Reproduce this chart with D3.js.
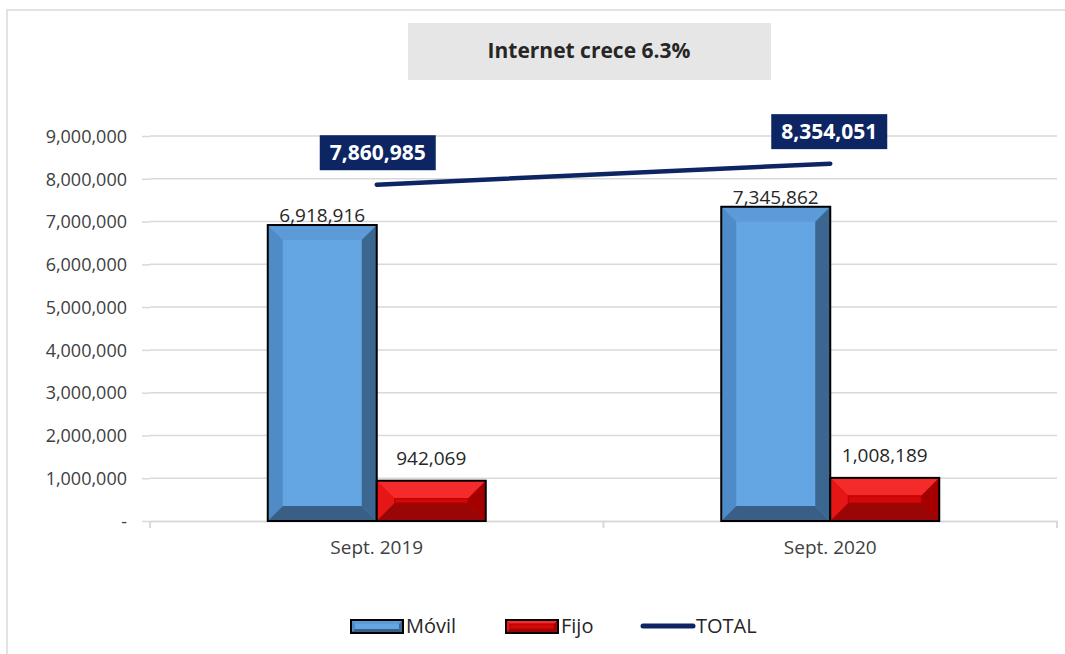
<!DOCTYPE html>
<html>
<head>
<meta charset="utf-8">
<script src="https://cdn.jsdelivr.net/npm/d3@7"></script>
<style>
  body { margin: 0; background: #fff; }
  text { font-family: "Open Sans", sans-serif; }
</style>
</head>
<body>
<script>
/* Chart data */
var categories = ["Sept. 2019", "Sept. 2020"];
var movil = [6918916, 7345862];
var fijo = [942069, 1008189];
var total = [7860985, 8354051];
var yTicks = [0, 1000000, 2000000, 3000000, 4000000, 5000000, 6000000, 7000000, 8000000, 9000000];
var titleText = "Internet crece 6.3%";

var width = 1065, height = 654;
var plot = {left: 150, right: 1057, top: 136, bottom: 521};

var svg = d3.select("body").append("svg")
  .attr("width", width)
  .attr("height", height);

/* Outer frame (only left and top edges fall inside the picture) */
svg.append("rect")
  .attr("x", 7).attr("y", 10)
  .attr("width", 1080).attr("height", 660)
  .attr("fill", "#fff")
  .attr("stroke", "#d9d9d9")
  .attr("stroke-width", 1.5);

/* Scales */
var x = d3.scaleBand().domain(categories).range([plot.left, plot.right]);
var y = d3.scaleLinear().domain([0, 9000000]).range([plot.bottom, plot.top]);
var barW = 109;

/* Gridlines */
svg.append("g").selectAll("line")
  .data(yTicks.slice(1))
  .enter().append("line")
  .attr("x1", plot.left).attr("x2", plot.right)
  .attr("y1", function(d) { return y(d); })
  .attr("y2", function(d) { return y(d); })
  .attr("stroke", "#d9d9d9")
  .attr("stroke-width", 1.5);

/* Y axis labels */
var yAxis = svg.append("g")
  .attr("transform", "translate(" + plot.left + ",0)")
  .call(d3.axisLeft(y).tickValues(yTicks).tickSize(8).tickPadding(15)
    .tickFormat(function(d) { return d === 0 ? "-" : d3.format(",")(d); }));
yAxis.select(".domain").remove();
yAxis.selectAll(".tick line").attr("stroke", "#d9d9d9").attr("stroke-width", 1.5);
yAxis.selectAll(".tick text")
  .attr("fill", "#404040")
  .style("font-size", "18px")
  .style("font-family", "Open Sans, sans-serif")
  .attr("dy", "0.35em");

/* X axis */
var xAxis = svg.append("g")
  .attr("transform", "translate(0," + plot.bottom + ")")
  .call(d3.axisBottom(x).tickSize(0).tickPadding(20));
xAxis.select(".domain").attr("stroke", "#d9d9d9").attr("stroke-width", 2);
xAxis.selectAll(".tick text")
  .attr("fill", "#404040")
  .style("font-size", "19px")
  .style("font-family", "Open Sans, sans-serif");
/* category boundary ticks */
svg.append("g").selectAll("line")
  .data([plot.left, plot.left + x.bandwidth(), plot.right])
  .enter().append("line")
  .attr("x1", function(d) { return d; }).attr("x2", function(d) { return d; })
  .attr("y1", plot.bottom).attr("y2", plot.bottom + 7)
  .attr("stroke", "#d9d9d9").attr("stroke-width", 2);

/* Bevelled bar drawing */
var blueStyle = {main: "#63a6e3", top: "#5c9ad8", left: "#4f8bc7", right: "#3a6690", bottom: "#3a5f86", bevel: 15};
var redStyle = {main: "#de0c0c", top: "#f52a2a", left: "#e61616", right: "#a40000", bottom: "#9a0505", bevel: 18};

function bevelBar(g, bx, by, bw, bh, s, bev) {
  var b = Math.min(bev, bw / 3, bh / 2.2);
  var x0 = bx, x1 = bx + bw, y0 = by, y1 = by + bh;
  g.append("rect").attr("x", x0).attr("y", y0).attr("width", bw).attr("height", bh).attr("fill", s.main);
  function poly(pts, c) {
    g.append("polygon").attr("points", pts.map(function(p) { return p.join(","); }).join(" ")).attr("fill", c);
  }
  poly([[x0, y0], [x1, y0], [x1 - b, y0 + b], [x0 + b, y0 + b]], s.top);
  poly([[x0, y0], [x0 + b, y0 + b], [x0 + b, y1 - b], [x0, y1]], s.left);
  poly([[x1, y0], [x1, y1], [x1 - b, y1 - b], [x1 - b, y0 + b]], s.right);
  poly([[x0, y1], [x0 + b, y1 - b], [x1 - b, y1 - b], [x1, y1]], s.bottom);
  if (s === redStyle) {
    g.append("rect").attr("x", x0 + b).attr("y", y0 + b).attr("width", bw - 2 * b).attr("height", Math.max(bh - 2 * b, 0))
      .attr("fill", "#d40808").attr("stroke", "#b00000").attr("stroke-width", 1);
  }
  g.append("rect").attr("x", x0).attr("y", y0).attr("width", bw).attr("height", bh)
    .attr("fill", "none").attr("stroke", "#000").attr("stroke-width", 2);
}

var bars = svg.append("g");
categories.forEach(function(c, i) {
  var cx = x(c) + x.bandwidth() / 2;
  bevelBar(bars, cx - barW, y(movil[i]), barW, plot.bottom - y(movil[i]), blueStyle, blueStyle.bevel);
  bevelBar(bars, cx, y(fijo[i]), barW, plot.bottom - y(fijo[i]), redStyle, redStyle.bevel);
});

/* Bar value labels */
var fmt = d3.format(",");
categories.forEach(function(c, i) {
  var cx = x(c) + x.bandwidth() / 2;
  svg.append("text")
    .attr("x", cx - barW / 2).attr("y", y(movil[i]) - 3)
    .attr("text-anchor", "middle")
    .attr("fill", "#262626")
    .style("font-size", "19px")
    .text(fmt(movil[i]));
  svg.append("text")
    .attr("x", cx + barW / 2).attr("y", y(fijo[i]) - 16)
    .attr("text-anchor", "middle")
    .attr("fill", "#262626")
    .style("font-size", "19px")
    .text(fmt(fijo[i]));
});

/* TOTAL line */
var line = d3.line()
  .x(function(d, i) { return x(categories[i]) + x.bandwidth() / 2; })
  .y(function(d) { return y(d); });
svg.append("path")
  .datum(total)
  .attr("d", line)
  .attr("fill", "none")
  .attr("stroke", "#0d2563")
  .attr("stroke-width", 4.5)
  .attr("stroke-linecap", "round");

/* TOTAL labels */
var totalBoxes = [{dx: 1, dy: -32}, {dx: -1, dy: -32}];
total.forEach(function(v, i) {
  var cx = x(categories[i]) + x.bandwidth() / 2 + totalBoxes[i].dx;
  var cy = y(v) + totalBoxes[i].dy;
  svg.append("rect")
    .attr("x", cx - 58).attr("y", cy - 17.5)
    .attr("width", 116).attr("height", 35)
    .attr("fill", "#0d2563");
  svg.append("text")
    .attr("x", cx).attr("y", cy)
    .attr("dy", "0.36em")
    .attr("text-anchor", "middle")
    .attr("fill", "#fff")
    .style("font-size", "21px")
    .style("font-weight", "bold")
    .text(fmt(v));
});

/* Title box */
svg.append("rect")
  .attr("x", 408).attr("y", 23)
  .attr("width", 363).attr("height", 57)
  .attr("fill", "#e6e6e6");
svg.append("text")
  .attr("x", 589).attr("y", 51)
  .attr("dy", "0.35em")
  .attr("text-anchor", "middle")
  .attr("fill", "#262626")
  .style("font-size", "21px")
  .style("font-weight", "bold")
  .text(titleText);

/* Legend */
var legend = svg.append("g");
var legendItems = [
  {name: "Móvil", type: "bar", style: blueStyle, x: 351},
  {name: "Fijo", type: "bar", style: redStyle, x: 506},
  {name: "TOTAL", type: "line", x: 641}
];
legendItems.forEach(function(it) {
  if (it.type === "bar") {
    bevelBar(legend, it.x, 620, 52, 13, it.style, 4);
  } else {
    legend.append("line")
      .attr("x1", it.x + 2).attr("x2", it.x + 52)
      .attr("y1", 626).attr("y2", 626)
      .attr("stroke", "#0d2563").attr("stroke-width", 5)
      .attr("stroke-linecap", "round");
  }
  legend.append("text")
    .attr("x", it.x + 55).attr("y", 626)
    .attr("dy", "0.35em")
    .attr("fill", "#262626")
    .style("font-size", "20px")
    .text(it.name);
});
</script>
</body>
</html>
